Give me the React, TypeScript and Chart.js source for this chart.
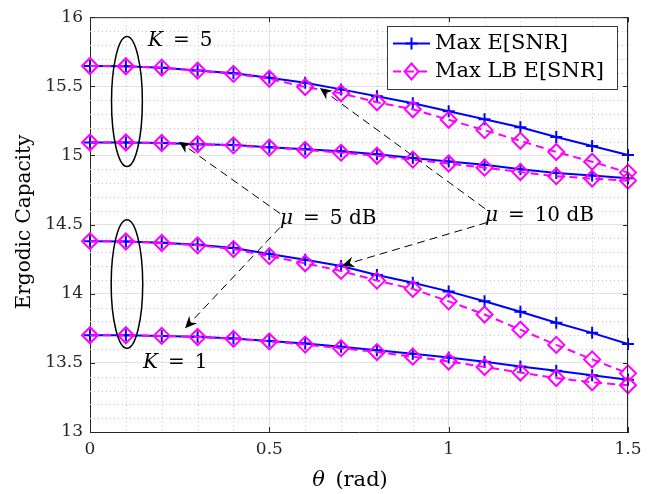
import React, { useEffect, useRef } from 'react';
import { Chart, registerables } from 'chart.js';

Chart.register(...registerables);

const thetaValues = [0, 0.1, 0.2, 0.3, 0.4, 0.5, 0.6, 0.7, 0.8, 0.9, 1.0, 1.1, 1.2, 1.3, 1.4, 1.5];

const k5mu10Max = [15.647, 15.645, 15.635, 15.615, 15.594, 15.562, 15.526, 15.478, 15.428, 15.378, 15.32, 15.262, 15.204, 15.133, 15.068, 15.004];
const k5mu10LB = [15.647, 15.645, 15.635, 15.613, 15.59, 15.555, 15.495, 15.45, 15.385, 15.334, 15.258, 15.183, 15.106, 15.025, 14.955, 14.876];
const k5mu5Max = [15.094, 15.094, 15.09, 15.082, 15.075, 15.06, 15.045, 15.03, 15.009, 14.982, 14.957, 14.932, 14.9, 14.874, 14.855, 14.835];
const k5mu5LB = [15.094, 15.094, 15.09, 15.081, 15.073, 15.057, 15.04, 15.02, 14.998, 14.97, 14.942, 14.912, 14.88, 14.85, 14.833, 14.818];
const k1mu10Max = [14.38, 14.378, 14.368, 14.354, 14.33, 14.287, 14.246, 14.2, 14.136, 14.08, 14.017, 13.945, 13.87, 13.79, 13.717, 13.636];
const k1mu10LB = [14.38, 14.378, 14.367, 14.35, 14.323, 14.272, 14.22, 14.165, 14.095, 14.035, 13.945, 13.85, 13.74, 13.63, 13.525, 13.424];
const k1mu5Max = [13.7, 13.7, 13.695, 13.688, 13.676, 13.659, 13.64, 13.616, 13.592, 13.566, 13.538, 13.508, 13.474, 13.443, 13.41, 13.378];
const k1mu5LB = [13.7, 13.7, 13.695, 13.687, 13.674, 13.655, 13.632, 13.606, 13.578, 13.545, 13.51, 13.47, 13.43, 13.39, 13.36, 13.338];

const xTicks = [0, 0.5, 1, 1.5];
const yTicks = [13, 13.5, 14, 14.5, 15, 15.5, 16];
const xMinorStep = 0.1;
const yMinorStep = 0.1;

const legendLabels = ['Max E[SNR]', 'Max LB E[SNR]'];
const xTitle = 'θ (rad)';
const yTitle = 'Ergodic Capacity';

// annotations in data coordinates
const ellipses = [
  { cx: 0.103, cy: 15.39, rx: 0.043, ry: 0.47 },
  { cx: 0.103, cy: 14.07, rx: 0.044, ry: 0.465 },
];
const arrows = [
  { x1: 0.53, y1: 14.58, x2: 0.248, y2: 15.1 },
  { x1: 0.53, y1: 14.48, x2: 0.265, y2: 13.75 },
  { x1: 1.101, y1: 14.616, x2: 0.641, y2: 15.488 },
  { x1: 1.107, y1: 14.515, x2: 0.703, y2: 14.205 },
];
const labels = [
  { x: 0.162, y: 15.827, sym: 'K', rest: '\u2002=\u20025' },
  { x: 0.148, y: 13.498, sym: 'K', rest: '\u2002=\u20021' },
  { x: 0.53, y: 14.544, sym: 'μ', rest: '\u2002=\u20025 dB' },
  { x: 1.101, y: 14.565, sym: 'μ', rest: '\u2002=\u200210 dB' },
];

const FONT = '"DejaVu Serif", "Liberation Serif", serif';
const BLUE = '#0000ff';
const MAGENTA = '#ff00ff';
const AXIS = '#262626';

function mk(values: number[]) {
  return thetaValues.map((x, i) => ({ x, y: values[i] }));
}

function drawMarkerPlus(ctx: CanvasRenderingContext2D, x: number, y: number) {
  ctx.save();
  ctx.strokeStyle = BLUE;
  ctx.lineWidth = 2;
  ctx.setLineDash([]);
  ctx.beginPath();
  ctx.moveTo(x - 6, y);
  ctx.lineTo(x + 6, y);
  ctx.moveTo(x, y - 6);
  ctx.lineTo(x, y + 6);
  ctx.stroke();
  ctx.restore();
}

function drawMarkerDiamond(ctx: CanvasRenderingContext2D, x: number, y: number) {
  ctx.save();
  ctx.strokeStyle = MAGENTA;
  ctx.lineWidth = 2;
  ctx.setLineDash([]);
  ctx.beginPath();
  ctx.moveTo(x, y - 8);
  ctx.lineTo(x + 7, y);
  ctx.lineTo(x, y + 8);
  ctx.lineTo(x - 7, y);
  ctx.closePath();
  ctx.stroke();
  ctx.restore();
}

function drawMixed(ctx: CanvasRenderingContext2D, x: number, y: number, sym: string, rest: string, size: number) {
  ctx.save();
  ctx.fillStyle = '#000';
  ctx.textBaseline = 'middle';
  ctx.textAlign = 'left';
  ctx.font = `italic ${size}px ${FONT}`;
  ctx.fillText(sym, x, y);
  const w = ctx.measureText(sym).width;
  ctx.font = `${size}px ${FONT}`;
  ctx.fillText(rest, x + w, y);
  ctx.restore();
}

const overlayPlugin = {
  id: 'overlay',
  beforeDatasetsDraw(chart: any) {
    const ctx = chart.ctx as CanvasRenderingContext2D;
    const { left, right, top, bottom } = chart.chartArea;
    const xs = chart.scales.x;
    const ys = chart.scales.y;
    ctx.save();
    ctx.strokeStyle = '#c4c4c4';
    ctx.lineWidth = 1;
    ctx.setLineDash([1, 3]);
    for (let i = 1; i < 15; i++) {
      if (i % 5 === 0) continue;
      const v = i * xMinorStep;
      const px = Math.round(xs.getPixelForValue(v)) + 0.5;
      ctx.beginPath();
      ctx.moveTo(px, top);
      ctx.lineTo(px, bottom);
      ctx.stroke();
    }
    for (let i = 1; i < 30; i++) {
      if (i % 5 === 0) continue;
      const v = 13 + i * yMinorStep;
      const py = Math.round(ys.getPixelForValue(v)) + 0.5;
      ctx.beginPath();
      ctx.moveTo(left, py);
      ctx.lineTo(right, py);
      ctx.stroke();
    }
    ctx.restore();
  },
  afterDraw(chart: any) {
    const ctx = chart.ctx as CanvasRenderingContext2D;
    const { left, right, top, bottom } = chart.chartArea;
    const xs = chart.scales.x;
    const ys = chart.scales.y;

    // box and inner ticks
    ctx.save();
    ctx.strokeStyle = AXIS;
    ctx.lineWidth = 1;
    ctx.setLineDash([]);
    ctx.beginPath();
    ctx.moveTo(left, top + 0.5);
    ctx.lineTo(right, top + 0.5);
    ctx.moveTo(right - 0.5, top);
    ctx.lineTo(right - 0.5, bottom);
    for (const v of xTicks) {
      const px = Math.round(xs.getPixelForValue(v)) + 0.5;
      ctx.moveTo(px, bottom);
      ctx.lineTo(px, bottom - 5);
      ctx.moveTo(px, top);
      ctx.lineTo(px, top + 5);
    }
    for (const v of yTicks) {
      const py = Math.round(ys.getPixelForValue(v)) + 0.5;
      ctx.moveTo(left, py);
      ctx.lineTo(left + 5, py);
      ctx.moveTo(right, py);
      ctx.lineTo(right - 5, py);
    }
    ctx.stroke();
    ctx.restore();

    // ellipses
    ctx.save();
    ctx.strokeStyle = '#000';
    ctx.lineWidth = 1.5;
    for (const e of ellipses) {
      const cx = xs.getPixelForValue(e.cx);
      const cy = ys.getPixelForValue(e.cy);
      const rx = Math.abs(xs.getPixelForValue(e.cx + e.rx) - cx);
      const ry = Math.abs(ys.getPixelForValue(e.cy + e.ry) - cy);
      ctx.beginPath();
      ctx.ellipse(cx, cy, rx, ry, 0, 0, Math.PI * 2);
      ctx.stroke();
    }
    ctx.restore();

    // arrows
    for (const a of arrows) {
      const x1 = xs.getPixelForValue(a.x1);
      const y1 = ys.getPixelForValue(a.y1);
      const x2 = xs.getPixelForValue(a.x2);
      const y2 = ys.getPixelForValue(a.y2);
      const ang = Math.atan2(y2 - y1, x2 - x1);
      const len = 12;
      const hw = 5.5;
      const ux = Math.cos(ang), uy = Math.sin(ang);
      const bx = x2 - ux * len, by = y2 - uy * len;
      ctx.save();
      ctx.strokeStyle = '#000';
      ctx.lineWidth = 1;
      ctx.setLineDash([8, 5]);
      ctx.beginPath();
      ctx.moveTo(x1, y1);
      ctx.lineTo(x2 - ux * 6, y2 - uy * 6);
      ctx.stroke();
      ctx.setLineDash([]);
      ctx.fillStyle = '#000';
      ctx.beginPath();
      ctx.moveTo(x2, y2);
      ctx.lineTo(bx - uy * hw, by + ux * hw);
      ctx.lineTo(x2 - ux * 8, y2 - uy * 8);
      ctx.lineTo(bx + uy * hw, by - ux * hw);
      ctx.closePath();
      ctx.fill();
      ctx.restore();
    }

    // labels
    for (const l of labels) {
      drawMixed(ctx, xs.getPixelForValue(l.x), ys.getPixelForValue(l.y), l.sym, l.rest, 20);
    }

    // legend
    const lx0 = 387, ly0 = 26, lx1 = 618, ly1 = 90;
    ctx.save();
    ctx.fillStyle = '#fff';
    ctx.fillRect(lx0, ly0, lx1 - lx0, ly1 - ly0);
    ctx.strokeStyle = '#3a3a3a';
    ctx.lineWidth = 1;
    ctx.strokeRect(lx0 + 0.5, ly0 + 0.5, lx1 - lx0 - 1, ly1 - ly0 - 1);
    const rows = [43.5, 71.5];
    ctx.strokeStyle = BLUE;
    ctx.lineWidth = 2;
    ctx.beginPath();
    ctx.moveTo(393, rows[0]);
    ctx.lineTo(430, rows[0]);
    ctx.stroke();
    drawMarkerPlus(ctx, 411.5, rows[0]);
    ctx.strokeStyle = MAGENTA;
    ctx.lineWidth = 2;
    ctx.setLineDash([8, 5]);
    ctx.beginPath();
    ctx.moveTo(393, rows[1]);
    ctx.lineTo(430, rows[1]);
    ctx.stroke();
    ctx.setLineDash([]);
    drawMarkerDiamond(ctx, 411.5, rows[1]);
    ctx.fillStyle = '#000';
    ctx.font = `21px ${FONT}`;
    ctx.textBaseline = 'middle';
    ctx.textAlign = 'left';
    ctx.fillText(legendLabels[0], 435, rows[0]);
    ctx.fillText(legendLabels[1], 435, rows[1]);
    ctx.restore();

    // axis titles
    ctx.save();
    ctx.fillStyle = '#000';
    ctx.textBaseline = 'middle';
    ctx.textAlign = 'center';
    ctx.font = `20px ${FONT}`;
    ctx.translate(25, 222);
    ctx.rotate(-Math.PI / 2);
    ctx.fillText(yTitle, 0, 0);
    ctx.restore();

    ctx.save();
    ctx.fillStyle = '#000';
    ctx.textBaseline = 'middle';
    ctx.textAlign = 'left';
    const restText = '\u2002(rad)';
    ctx.font = `italic 21px ${FONT}`;
    const thetaW = ctx.measureText('θ').width;
    ctx.font = `21px ${FONT}`;
    const restW = ctx.measureText(restText).width;
    const startX = 350 - (thetaW + restW) / 2;
    ctx.font = `italic 21px ${FONT}`;
    ctx.fillText(xTitle.slice(0, 1), startX, 481);
    ctx.font = `21px ${FONT}`;
    ctx.fillText(restText, startX + thetaW, 481);
    ctx.restore();
  },
};

export default function App() {
  const canvasRef = useRef<HTMLCanvasElement | null>(null);

  useEffect(() => {
    const canvas = canvasRef.current;
    if (!canvas) return;
    const maxStyle = {
      borderColor: BLUE,
      backgroundColor: BLUE,
      borderWidth: 2,
      pointStyle: 'cross',
      pointRadius: 6,
      pointBorderWidth: 2,
      pointBorderColor: BLUE,
      pointHoverRadius: 6,
      tension: 0,
      clip: false,
      order: 2,
    };
    const lbStyle = {
      borderColor: MAGENTA,
      backgroundColor: 'rgba(0,0,0,0)',
      borderWidth: 2,
      borderDash: [8, 5],
      pointStyle: 'rectRot',
      pointRadius: 8,
      pointBorderWidth: 2,
      pointBorderColor: MAGENTA,
      pointBackgroundColor: 'rgba(0,0,0,0)',
      pointHoverRadius: 8,
      tension: 0,
      clip: false,
      order: 1,
    };
    const chart = new Chart(canvas, {
      type: 'line',
      data: {
        datasets: [
          { label: legendLabels[0], data: mk(k5mu10Max), ...maxStyle },
          { label: legendLabels[0], data: mk(k5mu5Max), ...maxStyle },
          { label: legendLabels[0], data: mk(k1mu10Max), ...maxStyle },
          { label: legendLabels[0], data: mk(k1mu5Max), ...maxStyle },
          { label: legendLabels[1], data: mk(k5mu10LB), ...lbStyle },
          { label: legendLabels[1], data: mk(k5mu5LB), ...lbStyle },
          { label: legendLabels[1], data: mk(k1mu10LB), ...lbStyle },
          { label: legendLabels[1], data: mk(k1mu5LB), ...lbStyle },
        ] as any,
      },
      options: {
        responsive: false,
        animation: false,
        devicePixelRatio: 1,
        layout: { padding: { top: 16, right: 29, left: 0, bottom: 0 } },
        plugins: {
          legend: { display: false },
          tooltip: { enabled: false },
          title: { display: false },
        },
        events: [],
        scales: {
          x: {
            type: 'linear',
            min: 0,
            max: 1.5,
            afterBuildTicks: (s: any) => {
              s.ticks = xTicks.map((v) => ({ value: v }));
            },
            afterFit: (s: any) => {
              s.height = 62;
            },
            ticks: {
              autoSkip: false,
              maxRotation: 0,
              padding: 7,
              color: AXIS,
              font: { family: FONT, size: 17 },
              callback: (v: any) => String(v),
            },
            grid: { color: '#e2e2e2', lineWidth: 1, drawTicks: false },
            border: { display: true, color: AXIS, width: 1 },
          },
          y: {
            type: 'linear',
            min: 13,
            max: 16,
            afterBuildTicks: (s: any) => {
              s.ticks = yTicks.map((v) => ({ value: v }));
            },
            afterFit: (s: any) => {
              s.width = 90;
            },
            ticks: {
              autoSkip: false,
              padding: 7,
              color: AXIS,
              font: { family: FONT, size: 17 },
              callback: (v: any) => String(v),
            },
            grid: { color: '#e2e2e2', lineWidth: 1, drawTicks: false },
            border: { display: true, color: AXIS, width: 1 },
          },
        },
      } as any,
      plugins: [overlayPlugin as any],
    });
    return () => chart.destroy();
  }, []);

  return (
    <div style={{ position: 'absolute', left: 0, top: 0, width: 657, height: 494, background: '#fff' }}>
      <canvas ref={canvasRef} width={657} height={494} style={{ display: 'block' }} />
    </div>
  );
}
